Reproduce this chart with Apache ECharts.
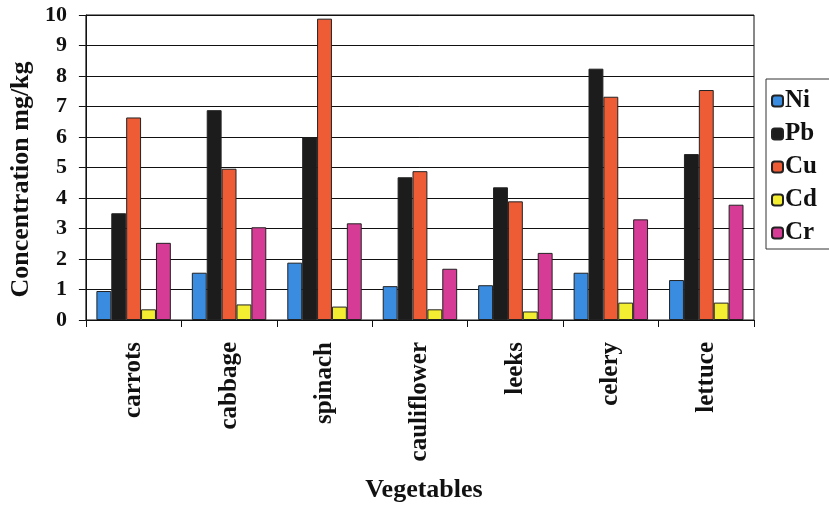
<!DOCTYPE html>
<html>
<head>
<meta charset="utf-8">
<script src="https://cdn.jsdelivr.net/npm/echarts@6/dist/echarts.min.js"></script>
<style>
  html, body { margin: 0; padding: 0; background: #ffffff; }
  #chart { width: 829px; height: 513px; }
</style>
</head>
<body>
<div id="chart"></div>
<script>
// Heavy-metal concentrations (mg/kg) in vegetables
const vegetables = ['carrots', 'cabbage', 'spinach', 'cauliflower', 'leeks', 'celery', 'lettuce'];
const ni = [0.95, 1.55, 1.88, 1.11, 1.14, 1.55, 1.31];
const pb = [3.50, 6.88, 5.99, 4.68, 4.35, 8.24, 5.44];
const cu = [6.64, 4.96, 9.88, 4.88, 3.89, 7.32, 7.54];
const cd = [0.35, 0.51, 0.44, 0.35, 0.28, 0.57, 0.57];
const cr = [2.53, 3.04, 3.17, 1.68, 2.20, 3.30, 3.78];
const yTicks = [0, 1, 2, 3, 4, 5, 6, 7, 8, 9, 10];

const metals = [
  { name: 'Ni', data: ni, color: '#3a8ce0' },
  { name: 'Pb', data: pb, color: '#1c1c1c' },
  { name: 'Cu', data: cu, color: '#ee5c36' },
  { name: 'Cd', data: cd, color: '#f4ee33' },
  { name: 'Cr', data: cr, color: '#d63c96' }
];

const serif = '"Liberation Serif", "Times New Roman", serif';
const chart = echarts.init(document.getElementById('chart'), null, { renderer: 'canvas' });

chart.setOption({
  animation: false,
  backgroundColor: '#ffffff',
  textStyle: { fontFamily: serif, color: '#111' },
  grid: {
    left: 85, right: 75, top: 15, bottom: 193,
    show: true, borderColor: '#111', borderWidth: 1
  },
  legend: {
    orient: 'vertical',
    left: 766, top: 79,
    padding: [9, 30, 3, 5],
    itemGap: 7,
    itemWidth: 11, itemHeight: 11,
    borderColor: '#333', borderWidth: 1,
    textStyle: {
      fontFamily: serif, fontWeight: 'bold', fontSize: 25, lineHeight: 26,
      color: '#111', padding: [0, 0, 0, -3]
    },
    data: metals.map(m => m.name)
  },
  xAxis: {
    type: 'category',
    data: vegetables,
    boundaryGap: true,
    axisLine: { lineStyle: { color: '#111', width: 1 } },
    axisTick: { show: true, alignWithLabel: false, length: 7, lineStyle: { color: '#111' } },
    axisLabel: {
      rotate: 90, margin: 22, fontFamily: serif, fontWeight: 'bold', fontSize: 25, color: '#111'
    },
    name: 'Vegetables',
    nameLocation: 'middle',
    nameGap: 157,
    nameTextStyle: {
      fontFamily: serif, fontWeight: 'bold', fontSize: 26, color: '#111',
      padding: [0, 0, 0, 8]
    }
  },
  yAxis: {
    type: 'value',
    min: yTicks[0],
    max: yTicks[yTicks.length - 1],
    interval: 1,
    axisLine: { show: true, lineStyle: { color: '#111', width: 1 } },
    axisTick: { show: true, length: 7, lineStyle: { color: '#111' } },
    axisLabel: { margin: 19, fontFamily: serif, fontWeight: 'bold', fontSize: 22, color: '#111' },
    splitLine: { show: true, lineStyle: { color: '#111', width: 1 } },
    name: 'Concentration mg/kg',
    nameLocation: 'middle',
    nameGap: 48,
    nameTextStyle: {
      fontFamily: serif, fontWeight: 'bold', fontSize: 26, color: '#111',
      padding: [0, 24, 0, 0]
    }
  },
  series: metals.map(m => ({
    name: m.name,
    type: 'bar',
    data: m.data,
    barGap: '0%',
    barCategoryGap: '22%',
    itemStyle: { color: m.color, borderColor: '#222', borderWidth: 1 }
  }))
});
</script>
</body>
</html>
